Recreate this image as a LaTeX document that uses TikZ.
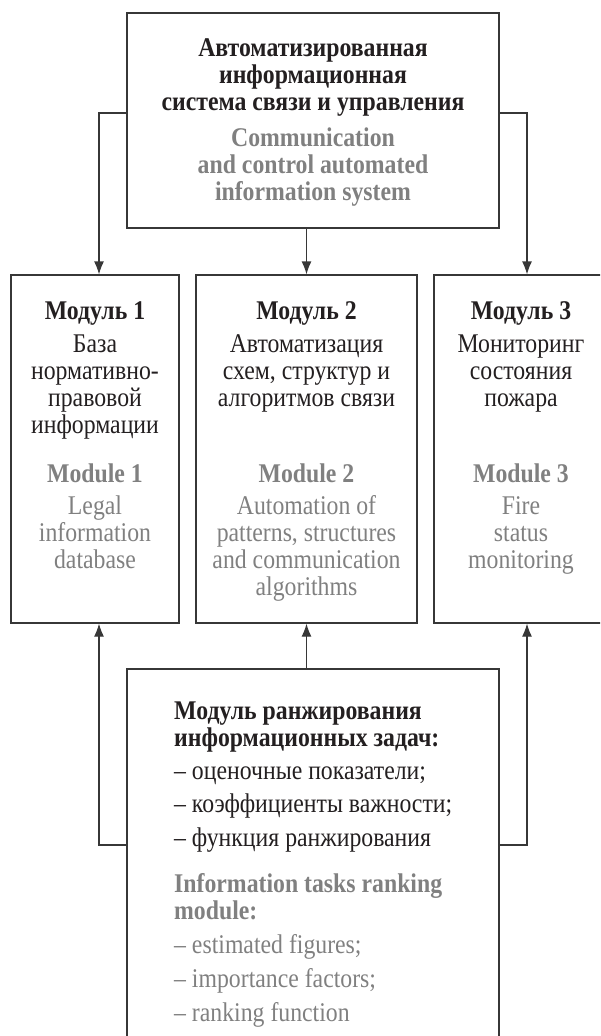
\documentclass[tikz,border=0pt]{standalone}
\usepackage{fontspec}
\setmainfont[FakeStretch=0.88]{Liberation Serif}
\usetikzlibrary{arrows.meta}
\definecolor{ink}{RGB}{35,31,32}
\definecolor{engray}{RGB}{128,128,128}
\definecolor{edge}{RGB}{55,55,55}

\begin{document}
\begin{tikzpicture}[x=1pt,y=-1pt]

    \tikzset{BX/.style={draw=edge,line width=1.2pt,inner sep=0pt}}
    \tikzset{AR/.style={draw=edge,line width=1.2pt,-{Latex[length=13pt,width=10pt]}}}
    \tikzset{RU/.style={inner sep=0pt,align=center,text=ink,font=\fontsize{27}{27}\selectfont}}
    \tikzset{EN/.style={RU,text=engray}}

    \useasboundingbox (0,0) rectangle (600,1036);
    \clip (0,0) rectangle (600,1036);

    \node (sys) [BX,minimum width=372pt,minimum height=215pt] at (313,120.5) {};
    	\node (m1) [BX,minimum width=168pt,minimum height=348pt] at (95,449) {};
    	\node (m2) [BX,minimum width=221pt,minimum height=348pt] at (306.5,449) {};
    	\node (m3) [BX,minimum width=174pt,minimum height=348pt] at (521,449) {};
    \node (rank) [BX,minimum width=372pt,minimum height=400pt] at (313,869) {};

    \node (sysru) [RU,anchor=north,font=\fontsize{27}{27}\selectfont\bfseries] at (313,38)
        {Автоматизированная\\информационная\\система связи и управления};
    \node (sysen) [EN,anchor=north,font=\fontsize{27}{27}\selectfont\bfseries] at (313,127.5)
        {Communication\\and control automated\\information system};

    \node (m1ru) [RU,anchor=north] at (95,301) {\textbf{Модуль 1}\\[6pt]База\\нормативно-\\правовой\\информации};
    \node (m1en) [EN,anchor=north] at (95,464) {\textbf{Module 1}\\[5pt]Legal\\information\\database};
    \node (m2ru) [RU,anchor=north] at (306.5,301) {\textbf{Модуль 2}\\[6pt]Автоматизация\\схем, структур и\\алгоритмов связи};
    \node (m2en) [EN,anchor=north] at (306.5,464) {\textbf{Module 2}\\[5pt]Automation of\\patterns, structures\\and communication\\algorithms};
    \node (m3ru) [RU,anchor=north] at (521,301) {\textbf{Модуль 3}\\[6pt]Мониторинг\\состояния\\пожара};
    \node (m3en) [EN,anchor=north] at (521,464) {\textbf{Module 3}\\[5pt]Fire\\status\\monitoring};

    \node (rankru) [RU,anchor=north west,align=left] at (174,702)
        {\textbf{Модуль ранжирования}\\\textbf{информационных задач:}\\[5.5pt]– оценочные показатели;\\[6.5pt]– коэффициенты важности;\\[6.5pt]– функция ранжирования};
    \node (rankeN) [EN,anchor=north west,align=left] at (174,873.5)
        {\textbf{Information tasks ranking}\\\textbf{module:}\\[6.5pt]– estimated figures;\\[7pt]– importance factors;\\[7pt]– ranking function};

    \coordinate (jl) at (99,113);
    \coordinate (jr) at (527,113);
    \coordinate (kl) at (99,845);
    \coordinate (kr) at (527,845);

    \draw[AR] (sys.west |- jl) -- (jl) -- (jl |- m1.north);
    \draw[AR] (m2.north |- sys.south) -- (m2.north);
    \draw[AR] (sys.east |- jr) -- (jr) -- (jr |- m3.north);
    \draw[AR] (rank.west |- kl) -- (kl) -- (kl |- m1.south);
    \draw[AR] (m2.south |- rank.north) -- (m2.south);
    \draw[AR] (rank.east |- kr) -- (kr) -- (kr |- m3.south);
\end{tikzpicture}
\end{document}
